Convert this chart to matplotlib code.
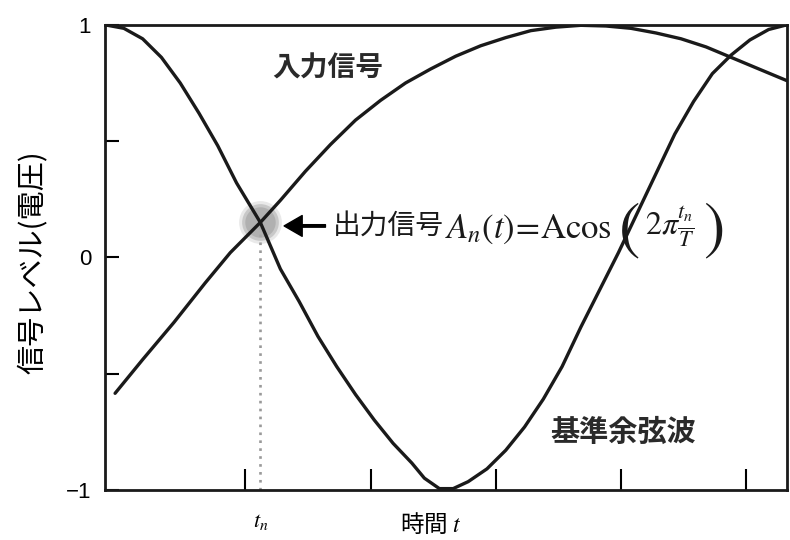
import numpy as np
import matplotlib
matplotlib.use("Agg")
import matplotlib.pyplot as plt

plt.rcParams['font.family'] = ['Noto Sans CJK JP', 'DejaVu Sans']
plt.rcParams['mathtext.fontset'] = 'stix'
plt.rcParams['axes.unicode_minus'] = True

# reference cosine wave (time in tick units, level)
ref_t = [0.0, 0.15, 0.3, 0.45, 0.6, 0.75, 0.9, 1.05, 1.24, 1.4, 1.55, 1.7,
         1.85, 2.0, 2.15, 2.3, 2.45, 2.55, 2.67, 2.78, 2.9, 3.05, 3.2, 3.35,
         3.5, 3.65, 3.8, 3.95, 4.1, 4.25, 4.4, 4.55, 4.7, 4.85, 5.0, 5.15,
         5.3, 5.445]
ref_v = [1.0, 0.985, 0.94, 0.86, 0.75, 0.62, 0.48, 0.32, 0.15, -0.05, -0.19, -0.34,
         -0.47, -0.59, -0.70, -0.80, -0.885, -0.95, -0.995, -0.995, -0.965, -0.91, -0.83, -0.73,
         -0.61, -0.47, -0.30, -0.14, 0.02, 0.19, 0.36, 0.53, 0.67, 0.79, 0.87, 0.935,
         0.98, 1.0]

# input signal
in_t = [0.08, 0.3, 0.55, 0.8, 1.0, 1.24, 1.4, 1.6, 1.8, 2.0, 2.2, 2.4, 2.6, 2.8,
        3.0, 3.2, 3.4, 3.6, 3.8, 4.0, 4.2, 4.4, 4.6, 4.8, 5.0, 5.2, 5.445]
in_v = [-0.585, -0.44, -0.28, -0.11, 0.02, 0.15, 0.245, 0.37, 0.485, 0.59, 0.675, 0.75, 0.81, 0.865,
        0.91, 0.945, 0.975, 0.99, 0.998, 0.995, 0.985, 0.965, 0.94, 0.905, 0.86, 0.815, 0.76]

# sampling instant and output level
t_n = 1.24
a_n = 0.15

x_ticks = [1.12, 2.12, 3.12, 4.12, 5.12]
y_ticks = [-1, -0.5, 0, 0.5, 1]
y_tick_labels = ['\u22121', '', '0', '', '1']

ink = '#1a1a1a'

fig = plt.figure(figsize=(7.9, 5.4), dpi=100)
ax = fig.add_axes([0.133, 0.093, 0.863, 0.861])

ax.plot(ref_t, ref_v, color=ink, lw=2.4, solid_capstyle='round', zorder=3)
ax.plot(in_t, in_v, color=ink, lw=2.4, solid_capstyle='round', zorder=3)

# soft grey disc at the sampled point
for s, a in [(950, 0.25), (700, 0.5), (480, 0.75)]:
    ax.scatter([t_n], [a_n], s=s, color='#a9a9a9', alpha=a, lw=0, zorder=2)

ax.plot([t_n, t_n], [-1, a_n], color='#999999', lw=1.9, ls=(0, (1, 2.0)), zorder=1)

# arrow and output formula
y_txt = a_n - 0.015
ax.annotate('', xy=(t_n + 0.19, y_txt), xytext=(t_n + 0.52, y_txt),
            arrowprops=dict(facecolor='black', edgecolor='black', width=1.8,
                            headwidth=15, headlength=13))
ax.text(t_n + 0.58, y_txt, '出力信号', fontsize=20, va='center', ha='left', color=ink)
ax.text(t_n + 1.475, y_txt - 0.01, r'$A_{n}(t)\!=\!\mathrm{Acos}$',
        fontsize=25, va='center', ha='left', color=ink)
ax.text(t_n + 2.95, y_txt - 0.02, '(', fontsize=46, family='STIXGeneral',
        va='center', ha='center', color=ink)
ax.text(t_n + 3.07, y_txt - 0.005, r'$2\pi\frac{t_n}{T}$',
        fontsize=23, va='center', ha='left', color=ink)
ax.text(t_n + 3.62, y_txt - 0.02, ')', fontsize=46, family='STIXGeneral',
        va='center', ha='center', color=ink)

ax.text(1.78, 0.81, '入力信号', fontsize=20, fontweight='bold', color='#2a2a2a',
        ha='center', va='center')
ax.text(4.14, -0.75, '基準余弦波', fontsize=21, fontweight='bold', color='#2a2a2a',
        ha='center', va='center')

ax.set_xlim(0, 5.445)
ax.set_ylim(-1, 1)
ax.set_xticks(x_ticks)
ax.set_xticklabels([])
ax.set_yticks(y_ticks)
ax.set_yticklabels(y_tick_labels, fontsize=16, family='Liberation Sans')
ax.tick_params(axis='x', direction='in', length=15, width=1.5)
ax.tick_params(axis='y', direction='in', length=10, width=1.5, pad=10)
for sp in ax.spines.values():
    sp.set_linewidth(2.0)
    sp.set_color(ink)

ax.text(t_n, -0.065, r'$t_n$', transform=ax.get_xaxis_transform(),
        fontsize=16, ha='center', va='center')
ax.text(0.477, -0.074, '時間 $t$', transform=ax.transAxes,
        fontsize=17, ha='center', va='center')
ax.set_ylabel('信号レベル(電圧)', fontsize=21)
ax.yaxis.set_label_coords(-0.084, 0.49)

fig.savefig('out.png', dpi=100)
